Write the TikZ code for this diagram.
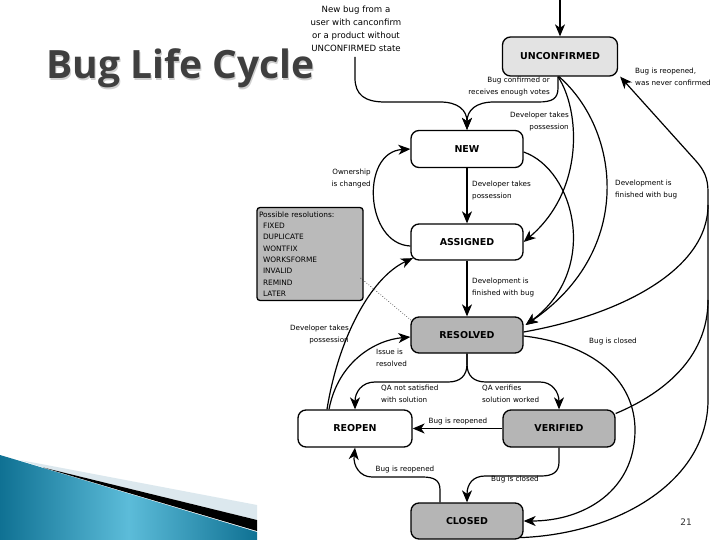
\documentclass[tikz,border=0pt]{standalone}
\usepackage{fontspec}
\setmainfont{DejaVu Sans}
\newfontfamily\titlefont{Open Sans}
\usetikzlibrary{arrows.meta,calc}
\definecolor{titlegray}{HTML}{3F3F3F}
\definecolor{titleshadow}{HTML}{CFCFCF}
\definecolor{uncfill}{HTML}{E3E3E3}
\definecolor{grayfill}{HTML}{B5B5B5}
\definecolor{boxfill}{HTML}{BABABA}
\definecolor{tealdark}{HTML}{0F7193}
\definecolor{teallight}{HTML}{5CBCD9}
\definecolor{striplight}{HTML}{DCE8EE}
\begin{document}
\begin{tikzpicture}[x=1pt,y=-1pt,
  stateb/.style={draw, line width=1.3pt, rounded corners=8pt, minimum width=112pt,
    minimum height=37pt, inner sep=0pt, font=\fontsize{9.5}{10}\selectfont\bfseries},
  lbl/.style={font=\fontsize{7.2}{11.8}\selectfont, align=left, inner sep=0pt},
  lblr/.style={font=\fontsize{7.2}{11.8}\selectfont, align=right, inner sep=0pt},
  conn/.style={line width=1.2pt, -{Stealth[length=12pt,width=10pt,inset=3.5pt]}},
  plain/.style={line width=1.2pt}]
\useasboundingbox (0,0) rectangle (720,540);
\fill[white] (0,0) rectangle (720,540);

% decoration bottom-left
\shade[left color=tealdark, right color=tealdark, middle color=teallight]
  (0,455) -- (257,532) -- (257,540) -- (0,540) -- cycle;
\fill[striplight] (20,460) -- (257,505) -- (257,520) -- (43,467.5) -- cycle;
\fill[black] (43,467.5) -- (257,520) -- (257,531) -- cycle;

% title
\node[anchor=base west, text=titleshadow, font=\titlefont\bfseries\fontsize{39}{44}\selectfont, inner sep=0pt] (titlesh) at (47.5,80.5) {Bug Life Cycle};
\node[anchor=base west, text=titlegray, font=\titlefont\bfseries\fontsize{39}{44}\selectfont, inner sep=0pt] (title) at (46,79) {Bug Life Cycle};

% states
\node[stateb, fill=uncfill, minimum width=115pt, minimum height=39pt] (unc) at (560,56.5) {UNCONFIRMED};
\node[stateb, fill=white] (new) at (467,149) {NEW};
\node[stateb, fill=white, minimum height=36pt] (asg) at (467,242) {ASSIGNED};
\node[stateb, fill=grayfill, minimum height=36pt] (res) at (467,335) {RESOLVED};
\node[stateb, fill=white, minimum width=114pt] (reo) at (355,428.5) {REOPEN};
\node[stateb, fill=grayfill] (ver) at (559,428.5) {VERIFIED};
\node[stateb, fill=grayfill, minimum height=36pt] (clo) at (467,521) {CLOSED};

% resolutions box
\node[draw, line width=1.3pt, rounded corners=3pt, fill=boxfill, minimum width=106pt, minimum height=93pt,
  text width=102pt, inner xsep=2pt, align=left, font=\fontsize{7.4}{11.3}\selectfont] (box) at (310,254)
  {Possible resolutions:\\\hspace*{4pt}FIXED\\\hspace*{4pt}DUPLICATE\\\hspace*{4pt}WONTFIX\\\hspace*{4pt}WORKSFORME\\\hspace*{4pt}INVALID\\\hspace*{4pt}REMIND\\\hspace*{4pt}LATER};

% page number
\node[font=\fontsize{9}{10}\selectfont, text=black!80] (pg) at (686,522) {21};

% free ends
\coordinate (top) at (560,0);
\coordinate (nbsrc) at (355,57);

% connectors
\draw[conn] (top) -- (unc.north);
\draw[conn] (nbsrc) -- (355,78) .. controls (355,95) and (365,102) .. (385,102) -- (440,102) .. controls (458,102) and (467,110) .. (new.north);
\draw[conn] ($(unc.south)+(-2,0)$) -- (558,88) .. controls (558,99) and (552,102) .. (538,102) -- (494,102) .. controls (476,102) and (467,110) .. (new.north);
\draw[conn] ($(unc.south)+(-2,0)$) .. controls (580,110) and (585,190) .. (asg.east);
\draw[conn] ($(unc.south)+(-1,0)$) .. controls (620,130) and (635,250) .. ($(res.east)+(2,-10)$);
\draw[conn] ($(new.east)+(0,3)$) .. controls (575,170) and (600,270) .. ($(res.east)+(2,-10)$);
\draw[conn] ($(asg.west)+(0,4)$) .. controls (365,244) and (360,152) .. (new.west);
\draw[conn] (new) -- (asg);
\draw[conn] (asg) -- (res);
\draw[conn] (res.south) -- (467,364) .. controls (467,376) and (460,382) .. (448,382) -- (375,382) .. controls (362,382) and (355,392) .. (reo.north);
\draw[conn] (res.south) -- (467,364) .. controls (467,376) and (474,382) .. (486,382) -- (540,382) .. controls (552,382) and (559,392) .. (ver.north);
\draw[conn] ($(reo.north)+(-28,0)$) .. controls (338,340) and (370,278) .. ($(asg.south west)+(2.5,-2.5)$);
\draw[conn] ($(reo.north)+(-26,0)$) .. controls (338,362) and (375,340) .. ($(res.west)+(0,2)$);
\draw[conn] (ver) -- (reo);
\draw[conn] (ver.south) -- (559,462) .. controls (559,472) and (553,476) .. (541,476) -- (485,476) .. controls (473,476) and (467,484) .. (clo.north);
\draw[conn] ($(clo.north)+(-27,0)$) -- (440,490) .. controls (440,480) and (434,477) .. (422,477) -- (372,477) .. controls (360,477) and (353,466) .. (reo.south);
\draw[conn] ($(clo.south east)+(-4,-2)$) .. controls (620,534) and (708,480) .. (708,400) -- (708,192) .. controls (708,178) and (704,170) .. (696,161) -- ($(unc.south east)+(2,0)$);
\draw[plain] ($(res.east)+(0,-3)$) .. controls (620,315) and (708,270) .. (708,205);
\draw[plain] ($(ver.east)+(0,-15)$) .. controls (660,395) and (708,360) .. (708,300);
\draw[conn] ($(res.east)+(0,1)$) .. controls (600,345) and (635,385) .. (635,430) .. controls (635,490) and (585,521) .. (clo.east);
\draw[dotted, line width=0.6pt] ($(box.east)+(-3,24)$) -- ($(res.north west)+(1,4)$);

% labels
\node[font=\fontsize{8.6}{13}\selectfont, align=center, inner sep=0pt, anchor=north] (l0) at (356,6) {New bug from a\\user with canconfirm\\or a product without\\UNCONFIRMED state};
\node[lblr, anchor=north east] (l1) at (550,77) {Bug confirmed or\\receives enough votes};
\node[lblr, anchor=north east] (l2) at (569,112) {Developer takes\\possession};
\node[lbl, anchor=north west] (l3) at (635,68) {Bug is reopened,\\was never confirmed};
\node[lblr, anchor=north east] (l4) at (371,169) {Ownership\\is changed};
\node[lbl, anchor=north west] (l5) at (472,181) {Developer takes\\possession};
\node[lbl, anchor=north west] (l6) at (615,180) {Development is\\finished with bug};
\node[lbl, anchor=north west] (l7) at (472,278) {Development is\\finished with bug};
\node[lblr, anchor=north east] (l8) at (349,325) {Developer takes\\possession};
\node[lbl, anchor=north west] (l9) at (376,349) {Issue is\\resolved};
\node[lbl, anchor=north west] (l10) at (381,385) {QA not satisfied\\with solution};
\node[lbl, anchor=north west] (l11) at (482,385) {QA verifies\\solution worked};
\node[lbl, anchor=north] (l12) at (613,338) {Bug is closed};
\node[lbl, anchor=south] (l13) at (458,425) {Bug is reopened};
\node[lbl, anchor=south] (l14) at (405,473) {Bug is reopened};
\node[lbl, anchor=north] (l15) at (515,476) {Bug is closed};
\end{tikzpicture}
\end{document}
